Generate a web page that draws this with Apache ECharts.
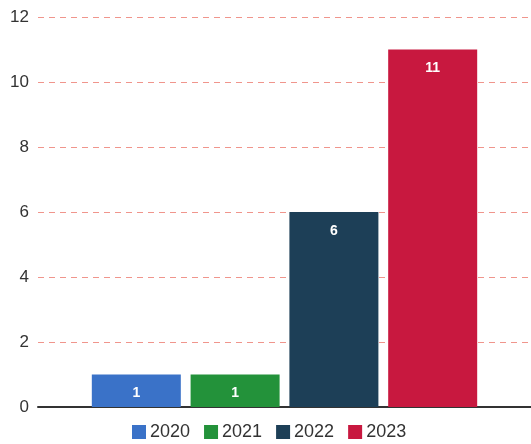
<!DOCTYPE html>
<html><head><meta charset="utf-8">
<script src="https://cdn.jsdelivr.net/npm/echarts@6/dist/echarts.min.js"></script>
<style>html,body{margin:0;padding:0;background:#fff}#c{width:531px;height:444px}</style>
</head><body><div id="c"></div>
<script>
const categories = [''];
const seriesNames = ['2020', '2021', '2022', '2023'];
const seriesValues = [[1], [1], [6], [11]];
const seriesColors = ['#3a72c8', '#23923a', '#1d3f57', '#c8183f'];
const yTicks = [0, 2, 4, 6, 8, 10, 12];

const chart = echarts.init(document.getElementById('c'));
chart.setOption({
  animation: false,
  textStyle: { fontFamily: 'Liberation Sans, Arial, sans-serif' },
  grid: { left: 38, right: 0, top: 17, bottom: 37 },
  legend: {
    top: 423, left: 132, padding: 0, itemWidth: 14, itemHeight: 14, itemGap: 14,
    icon: 'rect',
    textStyle: { fontSize: 18, color: '#333', padding: [0, 0, 0, -1] },
    data: seriesNames
  },
  xAxis: {
    type: 'category', data: categories,
    axisLine: { lineStyle: { color: '#333', width: 2 } },
    axisTick: { show: false }, axisLabel: { show: false }
  },
  yAxis: {
    type: 'value', min: yTicks[0], max: yTicks[yTicks.length - 1], interval: 2,
    axisLine: { show: false }, axisTick: { show: false },
    axisLabel: { fontSize: 17, color: '#333', margin: 9 },
    splitLine: { lineStyle: { color: '#f0958c', type: [6, 5], width: 1 } }
  },
  series: seriesNames.map((n, i) => ({
    name: n, type: 'bar', data: seriesValues[i],
    barWidth: 89, barGap: '11%',
    itemStyle: { color: seriesColors[i] },
    label: { show: true, position: 'insideTop', distance: 12, color: '#fff', fontWeight: 'bold', fontSize: 14 }
  }))
});
</script></body></html>
